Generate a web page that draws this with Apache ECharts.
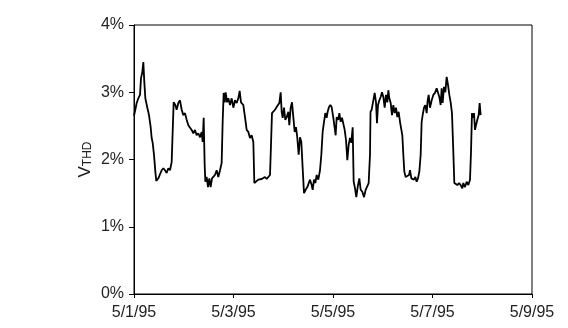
<!DOCTYPE html>
<html>
<head>
<meta charset="utf-8">
<script src="https://cdn.jsdelivr.net/npm/echarts@6/dist/echarts.min.js"></script>
<style>
html,body{margin:0;padding:0;background:#fff;}
#chart{width:568px;height:328px;}
</style>
</head>
<body>
<div id="chart"></div>
<script>
// Hours elapsed since 5/1/95 00:00
var hours = [0,0.64,1.29,2.09,2.89,3.38,4.02,4.50,4.98,5.47,6.43,7.24,8.04,8.52,9.00,9.65,10.29,10.77,11.74,12.54,13.35,14.15,14.95,15.76,16.56,17.37,18.17,18.65,19.14,19.94,20.58,21.39,22.19,23.00,23.80,24.60,25.41,26.21,
27.01,27.82,28.62,29.43,30.23,31.03,31.84,32.64,33.13,33.61,34.09,34.41,35.05,35.70,36.34,36.98,37.63,38.27,39.07,39.88,40.68,41.49,42.29,42.77,43.26,43.74,44.22,44.86,45.51,46.31,47.12,47.92,48.72,49.53,50.33,50.97,51.62,52.74,53.55,54.35,55.16,
55.96,56.76,57.57,58.05,58.85,59.98,60.78,61.59,62.39,63.19,64.00,64.80,65.61,66.09,66.57,67.21,68.02,68.82,69.63,70.11,70.75,71.24,71.72,72.36,73.00,73.65,74.45,74.93,75.58,76.22,76.86,77.51,78.15,78.79,79.44,80.08,80.72,81.37,82.01,82.81,83.62,84.26,
84.90,85.71,86.19,86.83,87.48,88.12,88.92,89.73,90.37,91.01,91.66,92.30,92.94,93.42,94.07,94.71,95.35,96.16,96.80,97.28,97.77,98.57,99.05,99.70,100.34,100.98,101.63,102.27,102.91,103.56,104.20,104.84,105.49,105.97,106.61,107.25,107.90,108.70,109.35,110.15,110.96,111.76,112.56,113.20,113.85,
114.1,114.65,115.46,116.10,116.74,117.22,117.71,118.35,118.99,119.64,120.28,120.92,121.57,122.21,122.69,123.17,123.82,124.46,125.10,125.75,126.39,127.03,127.68,128.32,128.96,129.45,129.93,130.41,131.05,131.86,132.66,133.14,133.79,134.43,135.07,135.72,136.36,137.00,137.65,138.29,138.77,139.25,139.90,140.54,141.18,141.67,142.15,
142.79,143.60,144.40,145.20,146.01,146.81,147.29,147.94,148.42,148.90,149.55,150.19,150.83,151.48,152.12,152.76,153.40,154.05,154.53,155.17,155.98,156.78,157.59,158.39,158.87,159.68,160.48,161.28,162.09,162.57,163.05,163.53,164.02,164.50,164.98,165.63,166.27,166.75,167.23];

// Voltage THD in percent
var vthd = [2.65,2.74,2.84,2.91,2.96,3.21,3.30,3.45,3.15,2.91,2.77,2.66,2.48,2.32,2.25,2.07,1.82,1.68,1.72,1.74,1.84,1.87,1.84,1.80,1.87,1.84,1.96,2.41,2.85,2.81,2.74,2.84,2.88,2.74,2.66,2.69,2.59,2.51,
2.51,2.44,2.39,2.44,2.36,2.39,2.33,2.41,2.26,2.62,1.92,1.67,1.74,1.59,1.72,1.59,1.72,1.70,1.77,1.84,1.74,1.84,1.95,2.56,2.99,2.85,3.00,2.85,2.91,2.81,2.91,2.77,2.88,2.84,2.91,3.02,2.85,2.81,2.63,2.44,2.41,
2.32,2.36,2.26,1.65,1.65,1.70,1.68,1.71,1.70,1.74,1.71,1.74,1.77,2.22,2.69,2.71,2.74,2.78,2.78,2.84,3.00,2.71,2.62,2.77,2.59,2.63,2.71,2.51,2.77,2.85,2.63,2.41,2.48,2.32,2.07,2.33,2.26,1.87,1.50,1.55,1.59,1.57,
1.70,1.62,1.55,1.70,1.65,1.77,1.70,1.84,2.07,2.41,2.56,2.69,2.62,2.71,2.78,2.81,2.78,2.62,2.63,2.36,2.63,2.59,2.69,2.56,2.62,2.63,2.44,2.29,1.99,2.22,2.32,2.25,2.48,1.67,1.57,1.44,1.59,1.72,1.55,1.52,1.44,1.55,1.57,1.65,2.07,
2.71,2.74,2.88,2.99,2.85,2.54,2.81,2.88,2.93,3.00,2.93,2.77,2.96,2.85,3.03,2.91,2.84,2.66,2.81,2.69,2.77,2.63,2.71,2.56,2.54,2.36,2.07,1.82,1.74,1.72,1.77,1.84,1.72,1.74,1.70,1.74,1.67,1.72,1.82,2.07,2.56,2.66,2.77,2.81,2.69,2.88,2.96,
2.77,2.88,2.96,2.99,3.06,3.08,2.93,2.81,3.06,2.84,3.08,3.00,3.23,3.11,2.96,2.85,2.69,2.11,1.65,1.67,1.62,1.65,1.62,1.57,1.65,1.59,1.67,1.62,1.70,2.11,2.69,2.62,2.69,2.44,2.51,2.59,2.66,2.84,2.66];

var xTickLabels = ['5/1/95','5/3/95','5/5/95','5/7/95','5/9/95'];
var yTickLabels = ['0%','1%','2%','3%','4%'];

var data = hours.map(function (h, i) { return [h, vthd[i]]; });

var chart = echarts.init(document.getElementById('chart'), null, {renderer: 'canvas'});
var font = 'Liberation Sans, Arial, Helvetica, sans-serif';
chart.setOption({
  animation: false,
  backgroundColor: '#ffffff',
  grid: {
    left: 134, right: 36, top: 25, bottom: 34,
    show: true, borderColor: '#000', borderWidth: 1, backgroundColor: 'transparent'
  },
  xAxis: {
    type: 'value',
    min: 0, max: 192, interval: 48,
    axisLine: {show: true, lineStyle: {color: '#000', width: 1}},
    axisTick: {show: true, length: 4, lineStyle: {color: '#000'}},
    splitLine: {show: false},
    axisLabel: {
      color: '#222', fontFamily: font, fontSize: 16, margin: 11,
      formatter: function (v) { return xTickLabels[Math.round(v / 48)]; }
    }
  },
  yAxis: {
    type: 'value',
    min: 0, max: 4, interval: 1,
    name: '{a|V}{b|THD}',
    nameLocation: 'middle',
    nameRotate: 90,
    nameGap: 40,
    nameMoveOverlap: false,
    nameTextStyle: {
      fontFamily: font,
      rich: {
        a: {fontSize: 17, color: '#222', fontFamily: font, lineHeight: 17, verticalAlign: 'top'},
        b: {fontSize: 12, color: '#222', fontFamily: font, lineHeight: 12, verticalAlign: 'bottom'}
      },
      lineHeight: 22
    },
    axisLine: {show: true, lineStyle: {color: '#000', width: 1}},
    axisTick: {show: true, length: 5, lineStyle: {color: '#000'}},
    splitLine: {show: false},
    axisLabel: {
      color: '#222', fontFamily: font, fontSize: 16, margin: 10,
      formatter: function (v) { return yTickLabels[Math.round(v)]; }
    }
  },
  series: [{
    type: 'line',
    data: data,
    showSymbol: false,
    symbol: 'none',
    lineStyle: {color: '#000', width: 1.8},
    z: 3
  }]
});
</script>
</body>
</html>
